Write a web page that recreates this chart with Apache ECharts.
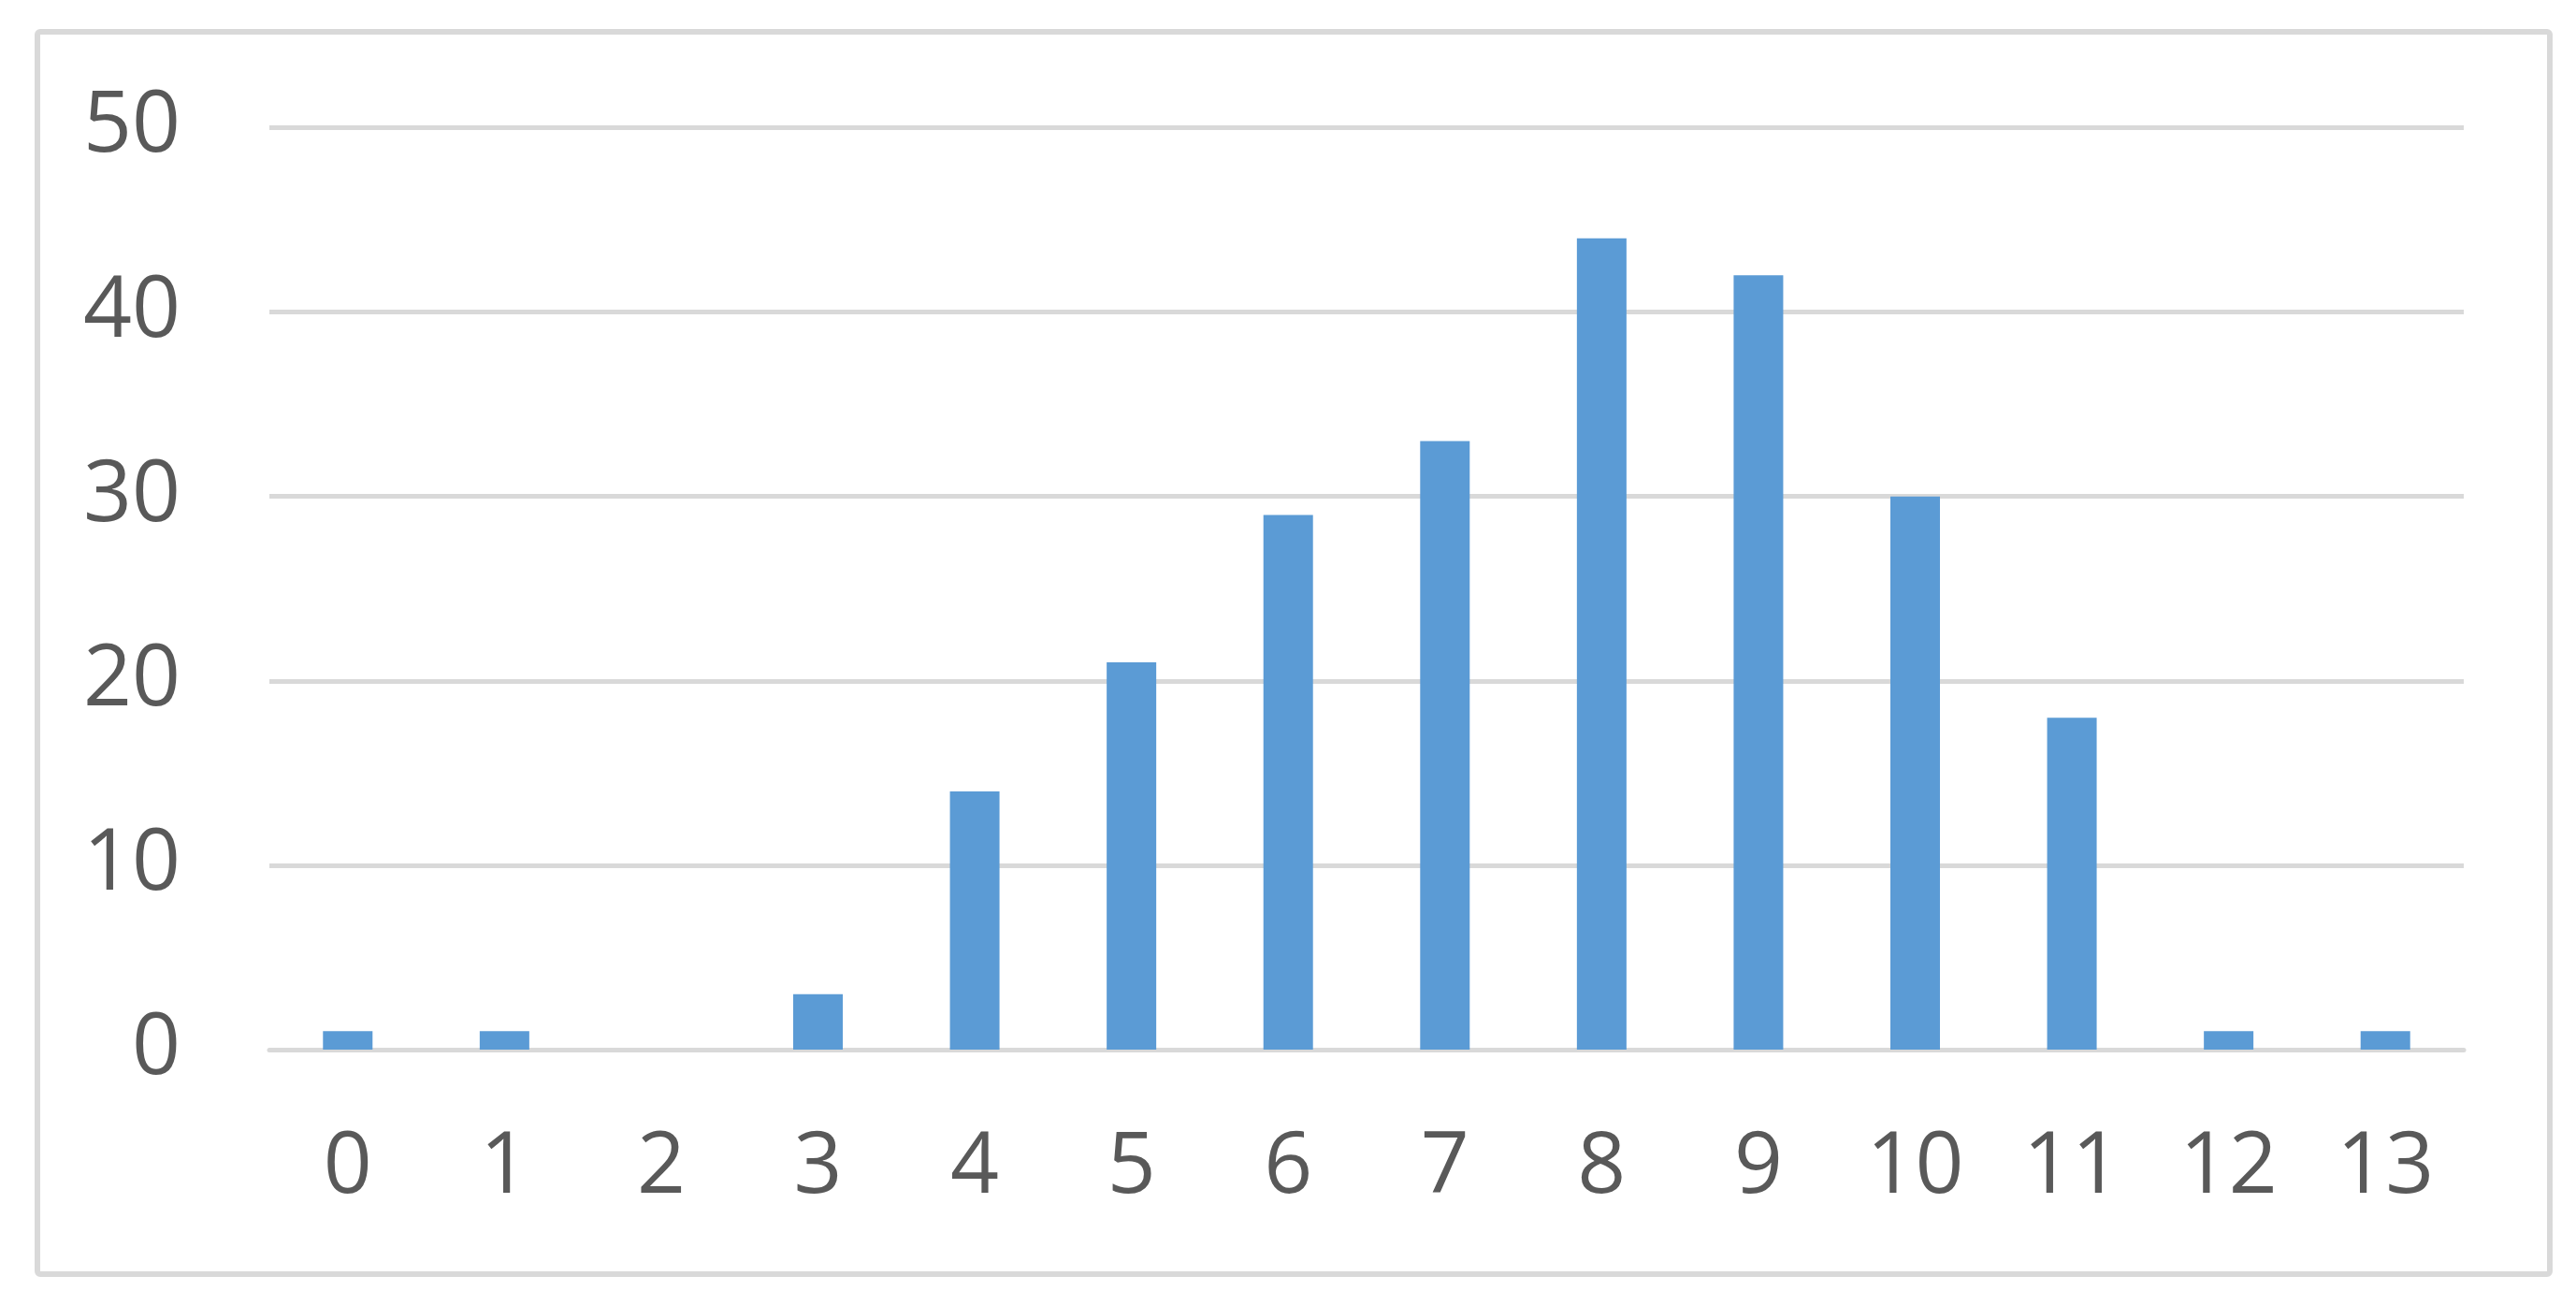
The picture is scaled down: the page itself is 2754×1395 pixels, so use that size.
<!DOCTYPE html>
<html>
<head>
<meta charset="utf-8">
<script src="https://cdn.jsdelivr.net/npm/echarts@6/dist/echarts.min.js"></script>
<style>
html,body{margin:0;padding:0;background:#fff;}
#chart{width:2754px;height:1395px;}
</style>
</head>
<body>
<div id="chart"></div>
<script>
const categories = ['0','1','2','3','4','5','6','7','8','9','10','11','12','13'];
const counts = [1, 1, 0, 3, 14, 21, 29, 33, 44, 42, 30, 18, 1, 1];
const yTicks = {min: 0, max: 50, interval: 10};

const chart = echarts.init(document.getElementById('chart'), null, {renderer: 'canvas'});
const labelFont = {fontFamily: 'Open Sans', fontSize: 91, fontWeight: 500, color: '#595959'};
chart.setOption({
  animation: false,
  backgroundColor: '#ffffff',
  graphic: [{
    type: 'rect',
    shape: {x: 40, y: 34, width: 2686, height: 1328, r: 3},
    style: {fill: 'none', stroke: '#d9d9d9', lineWidth: 6},
    silent: true
  }],
  grid: {left: 288, right: 120, top: 136.5, bottom: 273, containLabel: false},
  xAxis: {
    type: 'category',
    data: categories,
    axisLine: {show: true, lineStyle: {color: '#d9d9d9', width: 5}},
    axisTick: {show: false},
    axisLabel: Object.assign({margin: 82}, labelFont),
    splitLine: {show: false}
  },
  yAxis: {
    type: 'value',
    min: yTicks.min, max: yTicks.max, interval: yTicks.interval,
    axisLine: {show: false},
    axisTick: {show: false},
    axisLabel: Object.assign({margin: 95}, labelFont),
    splitLine: {show: true, lineStyle: {color: '#d9d9d9', width: 5}}
  },
  series: [{
    type: 'bar',
    data: counts,
    barWidth: 53,
    itemStyle: {color: '#5b9bd5'}
  }]
});
</script>
</body>
</html>
